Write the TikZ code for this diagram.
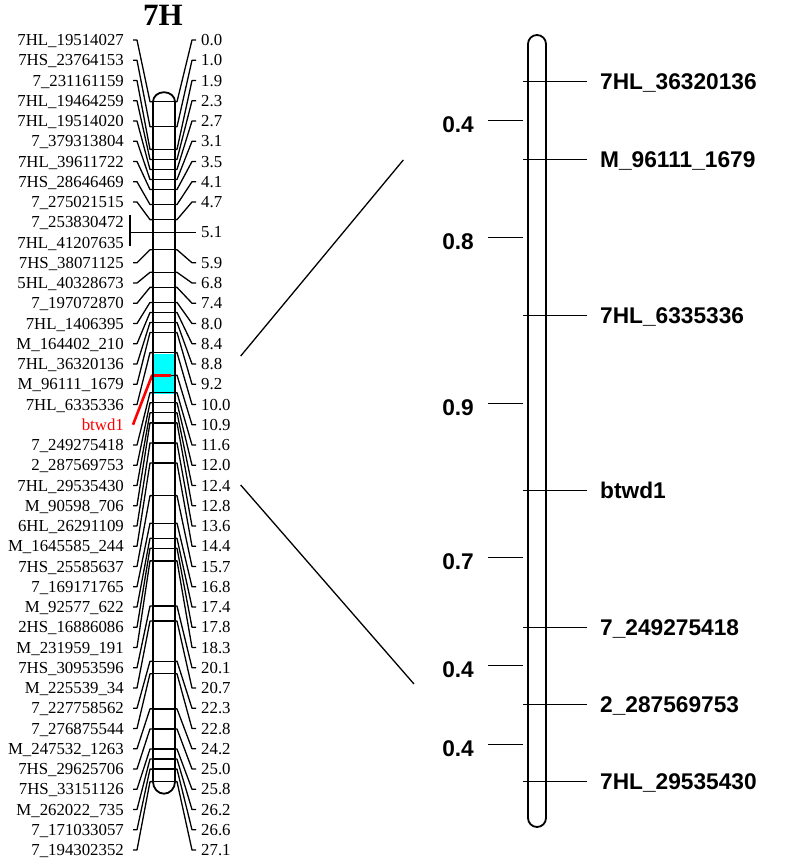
\documentclass[tikz,border=0pt]{standalone}
\usepackage{fontspec}
\setmainfont{Liberation Serif}
\newfontfamily\arialf{Liberation Sans}
\definecolor{hl}{RGB}{0,255,255}
\definecolor{mk}{RGB}{255,0,0}
\begin{document}
\begin{tikzpicture}[x=1pt,y=-1pt,
  lab/.style={font=\fontsize{16.8}{16.8}\selectfont, inner sep=0pt, text height=11.1pt, text depth=0pt},
  conn/.style={line width=1.3pt, line join=round},
  bar/.style={line width=1.3pt},
  chromo/.style={line width=1.8pt},
  rlab/.style={font=\arialf\bfseries\fontsize{22.7}{22.7}\selectfont, inner sep=0pt, text height=16.2pt, text depth=0pt},
  rline/.style={line width=1.1pt},
  zoomline/.style={line width=1.3pt}]
\useasboundingbox (0,0) rectangle (787,861);

% title
\node[font=\bfseries\fontsize{31}{31}\selectfont, anchor=base, inner sep=0pt] (title) at (163,26) {7H};

% highlighted interval on the left chromosome
\fill[hl] (153,353.5) rectangle (175,393.5);

% left labels: text / cM / flag (1 = ordinary connector)
\foreach \t/\c/\f [count=\i] in {
 7HL\_19514027/0.0/1, 7HS\_23764153/1.0/1, 7\_231161159/1.9/1, 7HL\_19464259/2.3/1,
 7HL\_19514020/2.7/1, 7\_379313804/3.1/1, 7HL\_39611722/3.5/1, 7HS\_28646469/4.1/1,
 7\_275021515/4.7/1, 7\_253830472/5.1/0, 7HL\_41207635/5.1/0, 7HS\_38071125/5.9/1,
 5HL\_40328673/6.8/1, 7\_197072870/7.4/1, 7HL\_1406395/8.0/1, M\_164402\_210/8.4/1,
 7HL\_36320136/8.8/1, M\_96111\_1679/9.2/1, 7HL\_6335336/10.0/1, btwd1/10.9/0,
 7\_249275418/11.6/1, 2\_287569753/12.0/1, 7HL\_29535430/12.4/1, M\_90598\_706/12.8/1,
 6HL\_26291109/13.6/1, M\_1645585\_244/14.4/1, 7HS\_25585637/15.7/1, 7\_169171765/16.8/1,
 M\_92577\_622/17.4/1, 2HS\_16886086/17.8/1, M\_231959\_191/18.3/1, 7HS\_30953596/20.1/1,
 M\_225539\_34/20.7/1, 7\_227758562/22.3/1, 7\_276875544/22.8/1, M\_247532\_1263/24.2/1,
 7HS\_29625706/25.0/1, 7HS\_33151126/25.8/1, M\_262022\_735/26.2/1, 7\_171033057/26.6/1,
 7\_194302352/27.1/1}{
  \pgfmathsetmacro\yl{40+20.25*(\i-1)}
  \pgfmathsetmacro\yb{101.7+25.09*\c}
  \ifnum\i=20
    \node[lab, anchor=east, text=mk] (L\i) at (124,\yl) {\t};
  \else
    \node[lab, anchor=east] (L\i) at (124,\yl) {\t};
  \fi
  \coordinate (LB\i) at (153,\yb);
  \ifnum\f=1
    \draw[conn] ([xshift=9pt]L\i.east) -- ++(4,0) -- ([xshift=-3pt]LB\i) -- (LB\i);
  \fi
}

% right positions: cM / row
\foreach \c/\r [count=\j] in {
 0.0/1, 1.0/2, 1.9/3, 2.3/4, 2.7/5, 3.1/6, 3.5/7, 4.1/8, 4.7/9, 5.1/10.5,
 5.9/12, 6.8/13, 7.4/14, 8.0/15, 8.4/16, 8.8/17, 9.2/18, 10.0/19, 10.9/20, 11.6/21,
 12.0/22, 12.4/23, 12.8/24, 13.6/25, 14.4/26, 15.7/27, 16.8/28, 17.4/29, 17.8/30, 18.3/31,
 20.1/32, 20.7/33, 22.3/34, 22.8/35, 24.2/36, 25.0/37, 25.8/38, 26.2/39, 26.6/40, 27.1/41}{
  \pgfmathsetmacro\yr{40+20.25*(\r-1)}
  \pgfmathsetmacro\yb{101.7+25.09*\c}
  \node[lab, anchor=west] (R\j) at (201,\yr) {\c};
  \ifnum\j=10
    \coordinate (RB\j) at (175,\yr);
    \draw[bar] (153,\yr) -- (RB\j);
    \draw[conn] (RB\j) -- ([xshift=-5pt]R\j.west);
  \else
    \coordinate (RB\j) at (175,\yb);
    \draw[bar] (153,\yb) -- (RB\j);
    \draw[conn] (RB\j) -- ++(2,0) -- ([xshift=-9pt]R\j.west) -- ([xshift=-5pt]R\j.west);
  \fi
}

% bracket for the two markers at 5.1
\coordinate (brT) at (130,215);
\coordinate (brB) at (130,246);
\draw[conn] (brT) -- (brB);
\draw[conn] (130,232.4) -- (153,232.4);

% red marker btwd1
\coordinate (redbar) at (152,375.5);
\draw[mk, line width=2.6pt, line join=round] ([xshift=9pt]L20.east) -- (redbar) -- ++(19,0);

% chromosome outline
\draw[chromo] (153,101.7) -- (153,781.7)
  arc[start angle=180, end angle=360, x radius=11pt, y radius=12pt]
  -- (175,101.7)
  arc[start angle=0, end angle=180, x radius=11pt, y radius=9.5pt];

% zoom lines
\coordinate (z1a) at (240.7,356);
\coordinate (z1b) at (403.3,160);
\coordinate (z2a) at (240.7,485);
\coordinate (z2b) at (414,684);
\draw[zoomline] (z1a) -- (z1b);
\draw[zoomline] (z2a) -- (z2b);

% right enlarged chromosome
\draw[chromo, rounded corners=9pt] (528,35) rectangle (546,827);

\foreach \t/\y [count=\k] in {7HL\_36320136/81.7, M\_96111\_1679/159.3, 7HL\_6335336/315.5,
  btwd1/490.7, 7\_249275418/627.3, 2\_287569753/704.3, 7HL\_29535430/781.7}{
  \coordinate (M\k) at (523,\y);
  \node[rlab, anchor=west] (N\k) at (600,\y) {\t};
  \draw[rline] (M\k) -- ++(64,0);
}

\foreach \d/\y [count=\k] in {0.4/120.3, 0.8/237.3, 0.9/403.3, 0.7/557.7, 0.4/665.3, 0.4/744.3}{
  \node[rlab, anchor=east] (D\k) at (474,\y+4) {\d};
  \coordinate (DT\k) at (523,\y);
  \draw[rline] (488,\y) -- (DT\k);
}
\end{tikzpicture}
\end{document}
